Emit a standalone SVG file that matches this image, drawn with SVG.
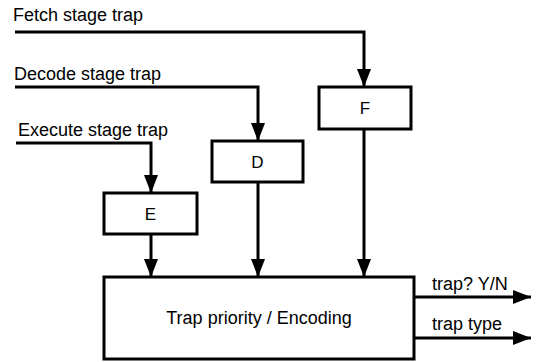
<svg xmlns="http://www.w3.org/2000/svg" width="540" height="362" viewBox="0 0 540 362">
<defs>
<style>
.t{font-family:"Liberation Sans",Arial,sans-serif;font-size:18px;fill:#000}
.s{font-size:17px}
.c{text-anchor:middle}
.box{fill:#fff;stroke:#000;stroke-width:3}
.w{fill:none;stroke:#000;stroke-width:3}
</style>
<marker id="ah" markerUnits="userSpaceOnUse" markerWidth="18" markerHeight="14" refX="18" refY="7" orient="auto">
<path d="M0,0 L18,7 L0,14 Z" fill="#000"/>
</marker>
</defs>
<rect width="540" height="362" fill="#fff"/>
<g id="connectors">
<polyline class="w" points="15,32 364,32 364,87" marker-end="url(#ah)"/>
<polyline class="w" points="15,87 258,87 258,141" marker-end="url(#ah)"/>
<polyline class="w" points="16,143 151,143 151,193" marker-end="url(#ah)"/>
<line class="w" x1="151" y1="234" x2="151" y2="277" marker-end="url(#ah)"/>
<line class="w" x1="258" y1="182" x2="258" y2="277" marker-end="url(#ah)"/>
<line class="w" x1="364" y1="129" x2="364" y2="277" marker-end="url(#ah)"/>
<line class="w" x1="414" y1="297" x2="531" y2="297" marker-end="url(#ah)"/>
<line class="w" x1="414" y1="338" x2="531" y2="338" marker-end="url(#ah)"/>
</g>
<g id="labels">
<text class="t" x="13" y="21">Fetch stage trap</text>
<text class="t" x="14" y="80">Decode stage trap</text>
<text class="t" x="18" y="136">Execute stage trap</text>
<text class="t" x="432" y="290">trap? Y/N</text>
<text class="t" x="432" y="330">trap type</text>
</g>
<g id="F">
<rect class="box" x="319" y="87" width="92" height="42"/>
<text class="t s c" x="365" y="114">F</text>
</g>
<g id="D">
<rect class="box" x="212" y="141" width="91" height="41"/>
<text class="t s c" x="257.5" y="168">D</text>
</g>
<g id="E">
<rect class="box" x="104" y="193" width="93" height="41"/>
<text class="t s c" x="150.5" y="220">E</text>
</g>
<g id="main">
<rect class="box" x="104" y="277" width="310" height="82"/>
<text class="t c" x="259" y="324">Trap priority / Encoding</text>
</g>
</svg>
